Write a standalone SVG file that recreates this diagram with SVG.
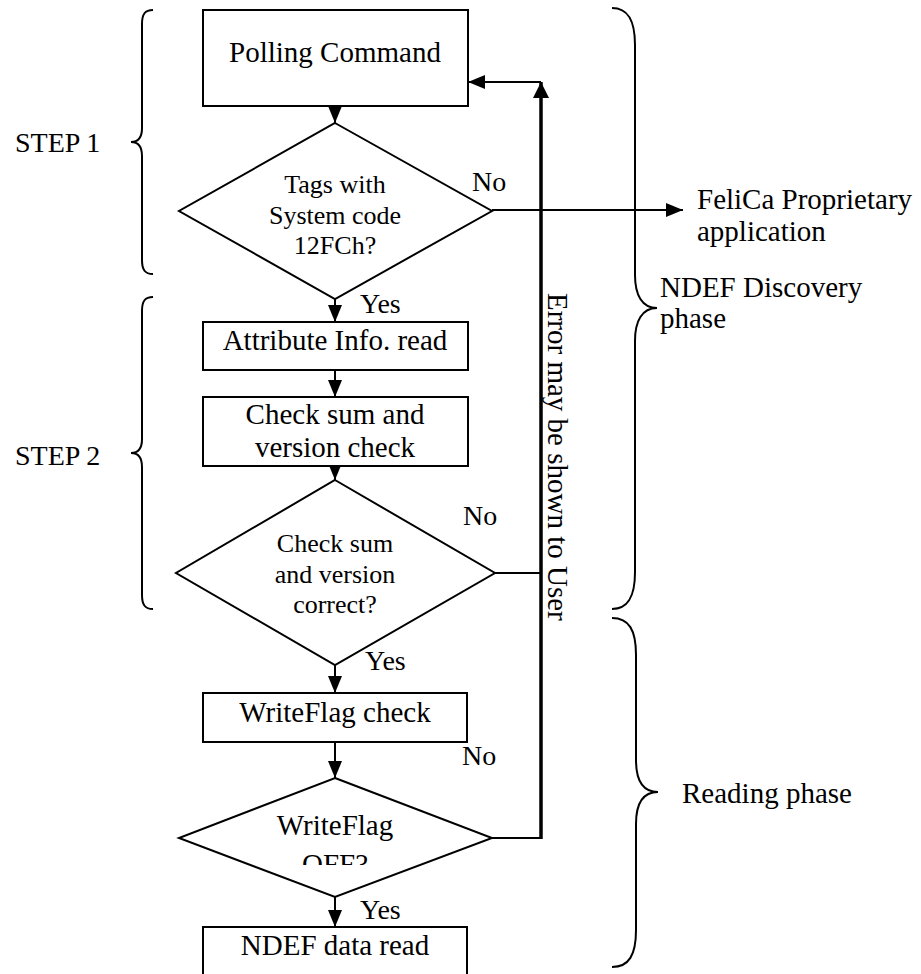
<svg xmlns="http://www.w3.org/2000/svg" width="921" height="974" viewBox="0 0 921 974">
<style>
  text { font-family: "Liberation Serif", "Times New Roman", serif; fill: #000; }
  .box { fill: #fff; stroke: #000; stroke-width: 2; }
  .dia { fill: #fff; stroke: #000; stroke-width: 2; }
  .t29 { font-size: 29px; }
  .t26 { font-size: 26px; }
  .t28 { font-size: 28px; }
  .mid { text-anchor: middle; }
  .ln { fill: none; stroke: #000; stroke-width: 2; }
  .thick { fill: none; stroke: #000; stroke-width: 3.5; }
  .brace { fill: none; stroke: #000; stroke-width: 2; }
</style>
<defs>
  <marker id="ah" markerUnits="userSpaceOnUse" markerWidth="18" markerHeight="16" viewBox="0 0 18 16" refX="17" refY="8" orient="auto">
    <path d="M0,1 L17,8 L0,15 z" fill="#000"/>
  </marker>
  <marker id="ahT" markerUnits="userSpaceOnUse" markerWidth="18" markerHeight="18" viewBox="0 0 18 18" refX="16" refY="9" orient="auto">
    <path d="M0,1 L16,9 L0,17 z" fill="#000"/>
  </marker>
  <clipPath id="clipOff"><rect x="0" y="0" width="921" height="865"/></clipPath>
</defs>
<rect x="0" y="0" width="921" height="974" fill="#fff"/>

<g id="connectors">
  <line class="ln" x1="335" y1="106" x2="335" y2="123" marker-end="url(#ah)"/>
  <line class="ln" x1="335" y1="299" x2="335" y2="322" marker-end="url(#ah)"/>
  <line class="ln" x1="335" y1="370" x2="335" y2="397" marker-end="url(#ah)"/>
  <line class="ln" x1="335" y1="466" x2="335" y2="480" marker-end="url(#ah)"/>
  <line class="ln" x1="335" y1="665" x2="335" y2="693" marker-end="url(#ah)"/>
  <line class="ln" x1="335" y1="742" x2="335" y2="778" marker-end="url(#ah)"/>
  <line class="ln" x1="335" y1="897" x2="335" y2="927" marker-end="url(#ah)"/>
  <line class="ln" x1="492" y1="210" x2="683" y2="210" marker-end="url(#ah)"/>
  <line class="ln" x1="495" y1="573" x2="541" y2="573"/>
  <line class="ln" x1="492" y1="838" x2="541" y2="838"/>
  <line class="thick" x1="541" y1="839" x2="541" y2="82" marker-end="url(#ahT)"/>
  <line class="ln" x1="541" y1="82" x2="468" y2="82" marker-end="url(#ah)"/>
</g>

<g id="n-polling">
  <rect class="box" x="203" y="10" width="265" height="96"/>
  <text class="t29 mid" x="335" y="62">Polling Command</text>
</g>

<g id="n-tags">
  <polygon class="dia" points="335,123 492,211 335,299 179,211"/>
  <text class="t26 mid" x="335" y="193">Tags with</text>
  <text class="t26 mid" x="335" y="224">System code</text>
  <text class="t26 mid" x="335" y="254">12FCh?</text>
</g>

<g id="n-attr">
  <rect class="box" x="203" y="322" width="265" height="48"/>
  <text class="t29 mid" x="335" y="350">Attribute Info. read</text>
</g>

<g id="n-check">
  <rect class="box" x="203" y="397" width="265" height="69"/>
  <text class="t29 mid" x="335" y="424">Check sum and</text>
  <text class="t29 mid" x="335" y="457">version check</text>
</g>

<g id="n-correct">
  <polygon class="dia" points="335,480 495,573 335,665 176,573"/>
  <text class="t26 mid" x="335" y="552">Check sum</text>
  <text class="t26 mid" x="335" y="583">and version</text>
  <text class="t26 mid" x="335" y="613">correct?</text>
</g>

<g id="n-wfcheck">
  <rect class="box" x="203" y="693" width="264" height="49"/>
  <text class="t29 mid" x="335" y="722">WriteFlag check</text>
</g>

<g id="n-wfoff">
  <polygon class="dia" points="335,778 492,838 335,897 179,838"/>
  <text class="t29 mid" x="335" y="835">WriteFlag</text>
  <text class="t29 mid" x="335" y="874" clip-path="url(#clipOff)">OFF?</text>
</g>

<g id="n-ndef">
  <rect class="box" x="203" y="927" width="264" height="60"/>
  <text class="t29 mid" x="335" y="955">NDEF data read</text>
</g>

<g id="n-felica">
  <text class="t29" x="697" y="209">FeliCa Proprietary</text>
  <text class="t29" x="697" y="241">application</text>
</g>

<g id="labels">
  <text class="t28" x="472" y="191">No</text>
  <text class="t28" x="360" y="313">Yes</text>
  <text class="t28" x="463" y="525">No</text>
  <text class="t28" x="365" y="670">Yes</text>
  <text class="t28" x="462" y="765">No</text>
  <text class="t28" x="360" y="919">Yes</text>
  <text class="t29" transform="translate(548,293) rotate(90)">Error may be shown to User</text>
</g>

<g id="braces">
  <path class="brace" d="M153,10 C145,10 142,14 142,24 L142,128 C142,138 138,142 131,142 C138,142 142,146 142,156 L142,260 C142,270 145,274 153,274"/>
  <path class="brace" d="M153,297 C145,297 142,301 142,311 L142,439 C142,449 138,453 131,453 C138,453 142,457 142,467 L142,595 C142,605 145,609 153,609"/>
  <path class="brace" d="M612,8 C628,8 635,20 635,45 L635,275 C635,295 642,308 657,308 C642,308 635,321 635,341 L635,572 C635,597 628,609 612,609"/>
  <path class="brace" d="M612,618 C629,618 636,630 636,655 L636,760 C636,780 643,792 658,792 C643,792 636,804 636,824 L636,930 C636,955 629,967 612,967"/>
  <text class="t28" x="15" y="152">STEP 1</text>
  <text class="t28" x="15" y="465">STEP 2</text>
  <text class="t29" x="660" y="297">NDEF Discovery</text>
  <text class="t29" x="660" y="328">phase</text>
  <text class="t29" x="682" y="803">Reading phase</text>
</g>
</svg>
